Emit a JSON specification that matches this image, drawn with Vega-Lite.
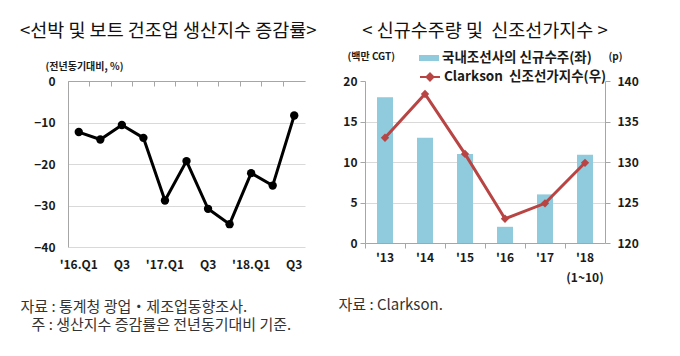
{
  "$schema": "https://vega.github.io/schema/vega-lite/v6.json",
  "background": "white",
  "padding": {"left": 20, "top": 21, "right": 10, "bottom": 10},
  "bounds": "flush",
  "spacing": 60,
  "config": {
    "view": {"stroke": null},
    "font": "Noto Sans CJK KR",
    "axis": {"domainColor": "#a6a6a6", "tickColor": "#a6a6a6", "gridColor": "#d9d9d9", "labelColor": "#1a1a1a", "labelFont": "Noto Sans CJK KR", "labelFontSize": 12, "labelFontWeight": "bold", "titleFont": "Noto Sans CJK KR", "titleFontWeight": "bold", "titleFontSize": 10, "titleColor": "#1a1a1a"},
    "title": {"fontSize": 18.5, "fontWeight": "normal", "color": "#111111", "font": "Noto Sans CJK KR"}
  },
  "hconcat": [
    {
      "width": 237,
      "height": 166,
      "title": {"text": "<선박 및 보트 건조업 생산지수 증감률>", "anchor": "start", "frame": "group", "dx": -48, "offset": 21},
      "data": {"values": [
        {"q": "16.Q1", "v": -12.3},
        {"q": "16.Q2", "v": -14.1},
        {"q": "16.Q3", "v": -10.6},
        {"q": "16.Q4", "v": -13.7},
        {"q": "17.Q1", "v": -28.8},
        {"q": "17.Q2", "v": -19.3},
        {"q": "17.Q3", "v": -30.8},
        {"q": "17.Q4", "v": -34.5},
        {"q": "18.Q1", "v": -22.2},
        {"q": "18.Q2", "v": -25.2},
        {"q": "18.Q3", "v": -8.3}
      ]},
      "layer": [
        {
          "mark": {"type": "line", "color": "#000000", "strokeWidth": 3},
          "encoding": {
            "x": {"field": "q", "type": "ordinal", "sort": null, "scale": {"type": "band", "paddingInner": 0, "paddingOuter": 0},
              "axis": {"orient": "top", "labels": false, "title": null, "ticks": true, "tickSize": -5, "bandPosition": 0, "domain": true, "grid": false}},
            "y": {"field": "v", "type": "quantitative", "scale": {"domain": [-40, 0], "nice": false},
              "axis": {"values": [-40, -30, -20, -10, 0], "ticks": false, "labelPadding": 13, "grid": true, "domain": true, "title": "(전년동기대비, %)", "titleAngle": 0, "titleAlign": "left", "titleBaseline": "middle", "titleX": -23, "titleY": -15}}
          }
        },
        {
          "mark": {"type": "point", "filled": true, "color": "#000000", "size": 70, "opacity": 1},
          "encoding": {
            "x": {"field": "q", "type": "ordinal", "sort": null,
              "axis": {"orient": "bottom", "values": ["16.Q1", "16.Q3", "17.Q1", "17.Q3", "18.Q1", "18.Q3"], "labelExpr": "indexof(datum.value, 'Q1') > 0 ? \"'\" + datum.value : 'Q3'", "domain": false, "ticks": false, "grid": false, "labelPadding": 12, "labelAngle": 0,
                "title": ["자료 : 통계청 광업・제조업동향조사.", "\u2800주 : 생산지수 증감률은 전년동기대비 기준."], "titleX": -48, "titleY": 52, "titleAlign": "left", "titleBaseline": "top", "titleAngle": 0, "titleFontSize": 15, "titleFontWeight": "normal", "titleColor": "#333333", "titleLineHeight": 18}},
            "y": {"field": "v", "type": "quantitative"}
          }
        }
      ],
      "resolve": {"axis": {"x": "independent"}}
    },
    {
      "width": 240,
      "height": 162,
      "title": {"text": "< 신규수주량 및\u00a0\u00a0신조선가지수 >", "anchor": "middle", "offset": 11},
      "data": {"values": [
        {"yr": "'13", "orders": 18.0, "idx": 133.0},
        {"yr": "'14", "orders": 13.0, "idx": 138.4},
        {"yr": "'15", "orders": 11.0, "idx": 131.0},
        {"yr": "'16", "orders": 2.0, "idx": 123.0},
        {"yr": "'17", "orders": 6.0, "idx": 124.9},
        {"yr": "'18", "orders": 10.9, "idx": 129.9}
      ]},
      "encoding": {
        "x": {"field": "yr", "type": "ordinal", "sort": null, "scale": {"type": "band", "paddingInner": 0.6, "paddingOuter": 0.3},
          "axis": {"labelAngle": 0, "tickSize": 5, "bandPosition": -0.75, "labelPadding": 4, "labelLineHeight": 20,
            "labelExpr": "datum.value == \"'18\" ? [\"'18\", \"(1~10)\"] : datum.value",
            "title": "자료 : Clarkson.", "titleX": -27, "titleY": 54, "titleAlign": "left", "titleBaseline": "top", "titleAngle": 0, "titleFontSize": 15, "titleFontWeight": "normal", "titleColor": "#333333"}}
      },
      "layer": [
        {
          "mark": {"type": "bar"},
          "encoding": {
            "y": {"field": "orders", "type": "quantitative", "scale": {"domain": [0, 20], "nice": false},
              "axis": {"values": [0, 5, 10, 15, 20], "tickSize": 5, "labelPadding": 3, "grid": true,
                "gridOpacity": {"condition": {"test": "datum.value == 0 || datum.value == 20", "value": 0}, "value": 1},
                "title": "(백만 CGT)", "titleAngle": 0, "titleAlign": "left", "titleBaseline": "middle", "titleX": -18, "titleY": -25}},
            "fill": {"datum": "국내조선사의 신규수주(좌)", "type": "nominal", "scale": {"range": ["#8fcadd"]},
              "legend": {"orient": "none", "legendX": 351, "legendY": -33, "symbolType": "M-1,-0.3H1V0.3H-1Z", "symbolSize": 400, "symbolStrokeWidth": 0, "labelFontSize": 13.5, "labelFontWeight": "bold", "labelColor": "#1a1a1a", "labelLimit": 400, "title": null, "labelOffset": 3, "padding": 0}}
          }
        },
        {
          "encoding": {
            "y": {"field": "idx", "type": "quantitative", "scale": {"domain": [120, 140], "nice": false},
              "axis": {"orient": "right", "values": [120, 125, 130, 135, 140], "tickSize": 5, "labelPadding": 7, "grid": false, "title": "(p)", "titleAngle": 0, "titleAlign": "left", "titleBaseline": "middle", "titleX": 3, "titleY": -25}}
          },
          "layer": [
            {
              "mark": {"type": "line", "strokeWidth": 3},
              "encoding": {
                "stroke": {"datum": "Clarkson\u00a0\u00a0신조선가지수(우)", "type": "nominal", "scale": {"range": ["#b84543"]},
                  "legend": {"orient": "none", "legendX": 351, "legendY": -15, "symbolType": "M-1,0H1M0,-0.35L0.35,0L0,0.35L-0.35,0Z", "symbolSize": 400, "symbolStrokeWidth": 2, "symbolFillColor": "#b84543", "labelFontSize": 13.5, "labelFontWeight": "bold", "labelColor": "#1a1a1a", "labelLimit": 400, "title": null, "labelOffset": 3, "padding": 0,
                    "encode": {"symbols": {"update": {"fill": {"value": "#b84543"}}}}}}
              }
            },
            {
              "mark": {"type": "point", "shape": "diamond", "filled": true, "size": 70, "color": "#b84543", "opacity": 1}
            }
          ]
        }
      ],
      "resolve": {"scale": {"y": "independent"}}
    }
  ]
}
